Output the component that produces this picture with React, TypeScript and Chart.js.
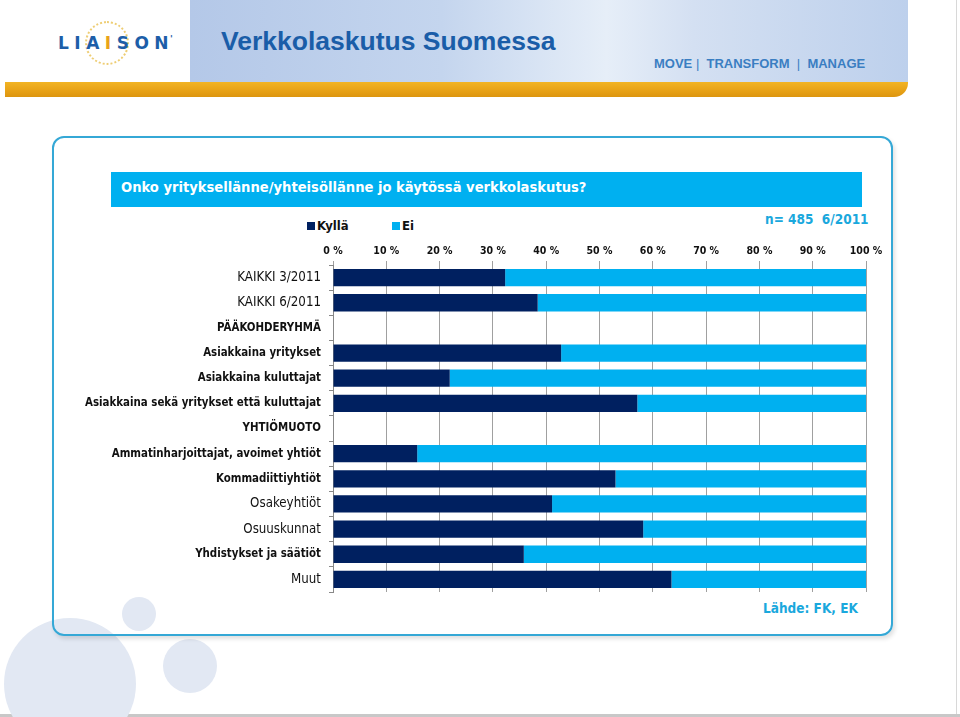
import React, { useEffect, useRef } from "react";
import { Chart, registerables } from "chart.js";

Chart.register(...registerables);

const categories = [
  "KAIKKI 3/2011",
  "KAIKKI 6/2011",
  "PÄÄKOHDERYHMÄ",
  "Asiakkaina yritykset",
  "Asiakkaina kuluttajat",
  "Asiakkaina sekä yritykset että kuluttajat",
  "YHTIÖMUOTO",
  "Ammatinharjoittajat, avoimet yhtiöt",
  "Kommadiittiyhtiöt",
  "Osakeyhtiöt",
  "Osuuskunnat",
  "Yhdistykset ja säätiöt",
  "Muut",
];
const boldRows = [2, 3, 4, 5, 6, 7, 8, 11];
const kyllaValues = [32.3, 38.4, null, 42.8, 21.9, 57.1, null, 15.8, 53.0, 41.1, 58.2, 35.8, 63.5];
const eiValues = [67.7, 61.6, null, 57.2, 78.1, 42.9, null, 84.2, 47.0, 58.9, 41.8, 64.2, 36.5];
const seriesNames = ["Kyllä", "Ei"];
const seriesColors = ["#002060", "#00b0f0"];
const xTicks = [0, 10, 20, 30, 40, 50, 60, 70, 80, 90, 100];

const FONT = "'DejaVu Sans Condensed', 'DejaVu Sans', sans-serif";

const abs = (l: number, t: number, w: number, h: number): React.CSSProperties => ({
  position: "absolute",
  left: l,
  top: t,
  width: w,
  height: h,
});

function BarChart() {
  const ref = useRef<HTMLCanvasElement | null>(null);
  useEffect(() => {
    if (!ref.current) return;
    const chart = new Chart(ref.current, {
      type: "bar",
      data: {
        labels: categories,
        datasets: [
          {
            label: seriesNames[0],
            data: kyllaValues as any,
            backgroundColor: seriesColors[0],
            categoryPercentage: 0.8,
            barPercentage: 0.86,
          },
          {
            label: seriesNames[1],
            data: eiValues as any,
            backgroundColor: seriesColors[1],
            categoryPercentage: 0.8,
            barPercentage: 0.86,
          },
        ],
      },
      options: {
        indexAxis: "y",
        responsive: false,
        animation: false,
        devicePixelRatio: 1,
        layout: { padding: { right: 22, bottom: 8, top: 0, left: 0 } },
        plugins: { legend: { display: false }, tooltip: { enabled: false } },
        scales: {
          x: {
            position: "top",
            stacked: true,
            min: 0,
            max: 100,
            afterBuildTicks: (scale: any) => {
              scale.ticks = xTicks.map((v) => ({ value: v }));
            },
            afterFit: (scale: any) => {
              scale.height = 27;
              scale.paddingLeft = 0;
              scale.paddingRight = 0;
            },
            ticks: {
              callback: (v: any) => v + " %",
              font: { family: FONT, size: 10.5, weight: "bold" },
              color: "#111",
              padding: 3,
              maxRotation: 0,
            },
            grid: { color: "#a0a0a0", lineWidth: 1, tickLength: 4, drawTicks: true },
            border: { display: false },
          },
          y: {
            stacked: true,
            afterFit: (scale: any) => {
              scale.width = 273;
              scale.paddingTop = 0;
              scale.paddingBottom = 0;
            },
            ticks: {
              color: "#111",
              padding: 8,
              font: (ctx: any) =>
                boldRows.includes(ctx.index)
                  ? { family: FONT, size: 11.4, weight: "bold" }
                  : { family: FONT, size: 13.2, weight: "normal" },
            },
            grid: { drawOnChartArea: false, drawTicks: true, tickLength: 4, color: "#888" },
            border: { display: true, color: "#888" },
          },
        },
      },
    });
    return () => chart.destroy();
  }, []);
  return <canvas ref={ref} width={828} height={362} style={{ ...abs(60, 238, 828, 362), display: "block" }} />;
}

export default function App() {
  const circle = (cx: number, cy: number, r: number): React.CSSProperties => ({
    position: "absolute",
    left: cx - r,
    top: cy - r,
    width: r * 2,
    height: r * 2,
    borderRadius: "50%",
    background: "#e2e8f3",
  });
  return (
    <div
      style={{
        position: "absolute",
        left: 0,
        top: 0,
        width: 960,
        height: 717,
        overflow: "hidden",
        background: "#fff",
        fontFamily: "'Liberation Sans', Arial, sans-serif",
      }}
    >
      {/* header band */}
      <div
        style={{
          ...abs(190, 0, 718, 84),
          background:
            "linear-gradient(90deg, #b4c8e8 0%, #c4d5ee 35%, #e6eef8 58%, #d4e0f2 70%, #bdd0ec 100%)",
        }}
      />
      <div
        style={{
          ...abs(5, 82, 903, 15),
          background: "linear-gradient(180deg, #f2b424 0%, #e7a116 60%, #dc950f 100%)",
          borderBottomRightRadius: 14,
        }}
      />
      <div style={{ ...abs(956, 0, 1, 717), background: "#d8d8d8" }} />
      <div style={{ ...abs(0, 714, 960, 3), background: "#c8c8c8" }} />

      {/* logo */}
      <div
        style={{
          ...abs(85, 21, 44, 44),
          borderRadius: "50%",
          border: "2px dotted #e9bd45",
          boxSizing: "border-box",
          opacity: 0.75,
        }}
      />
      <div
        style={{
          position: "absolute",
          left: 58,
          top: 33,
          fontSize: 17,
          fontWeight: "bold",
          letterSpacing: 5.5,
          color: "#1d5ea8",
          whiteSpace: "nowrap",
          fontFamily: "'DejaVu Sans', sans-serif",
          lineHeight: "20px",
        }}
      >
        LIA<span style={{ color: "#e9a31a" }}>I</span>SON
        <span style={{ fontSize: 9, position: "relative", top: -7, left: -4, letterSpacing: 0 }}>'</span>
      </div>

      <div
        style={{
          position: "absolute",
          left: 221,
          top: 26,
          fontSize: 26.5,
          fontWeight: "bold",
          color: "#1a5da8",
          whiteSpace: "nowrap",
        }}
      >
        Verkkolaskutus Suomessa
      </div>
      <div
        style={{
          position: "absolute",
          left: 654,
          top: 56,
          fontSize: 13,
          fontWeight: "bold",
          color: "#3a7ec2",
          whiteSpace: "nowrap",
        }}
      >
        MOVE<span style={{ fontWeight: "normal" }}>&nbsp;|&nbsp;&nbsp;</span>TRANSFORM
        <span style={{ fontWeight: "normal" }}>&nbsp;&nbsp;|&nbsp;&nbsp;</span>MANAGE
      </div>

      {/* decorative circles */}
      <div style={circle(70, 684, 66)} />
      <div style={circle(139, 614, 17)} />
      <div style={circle(190, 666, 27)} />

      {/* rounded box */}
      <div
        style={{
          ...abs(52, 136, 841, 500),
          border: "2px solid #35a8d6",
          borderRadius: 12,
          boxSizing: "border-box",
          boxShadow: "2px 3px 4px rgba(0,0,0,0.12)",
        }}
      />

      {/* question bar */}
      <div style={{ ...abs(111, 172, 751, 35), background: "#00b0f0" }} />
      <div
        style={{
          position: "absolute",
          left: 121,
          top: 178,
          fontSize: 14.6,
          fontWeight: "bold",
          color: "#fff",
          whiteSpace: "nowrap",
          fontFamily: FONT,
        }}
      >
        Onko yrityksellänne/yhteisöllänne jo käytössä verkkolaskutus?
      </div>

      {/* legend */}
      {seriesNames.map((n, i) => (
        <div
          key={n}
          style={{
            position: "absolute",
            left: i === 0 ? 307 : 392,
            top: 218,
            fontSize: 13,
            fontWeight: "bold",
            color: "#111",
            whiteSpace: "nowrap",
            fontFamily: FONT,
            display: "flex",
            alignItems: "center",
          }}
        >
          <span style={{ display: "inline-block", width: 8, height: 8, background: seriesColors[i], marginRight: 2 }} />
          {n}
        </div>
      ))}
      <div
        style={{
          position: "absolute",
          left: 765,
          top: 211,
          fontSize: 13.5,
          fontWeight: "bold",
          color: "#1aa8dd",
          whiteSpace: "nowrap",
          fontFamily: FONT,
        }}
      >
        n= 485&nbsp;&nbsp;6/2011
      </div>

      <BarChart />

      <div
        style={{
          position: "absolute",
          left: 763,
          top: 600,
          fontSize: 13.5,
          fontWeight: "bold",
          color: "#1aa8dd",
          whiteSpace: "nowrap",
          fontFamily: FONT,
        }}
      >
        Lähde: FK, EK
      </div>
    </div>
  );
}
